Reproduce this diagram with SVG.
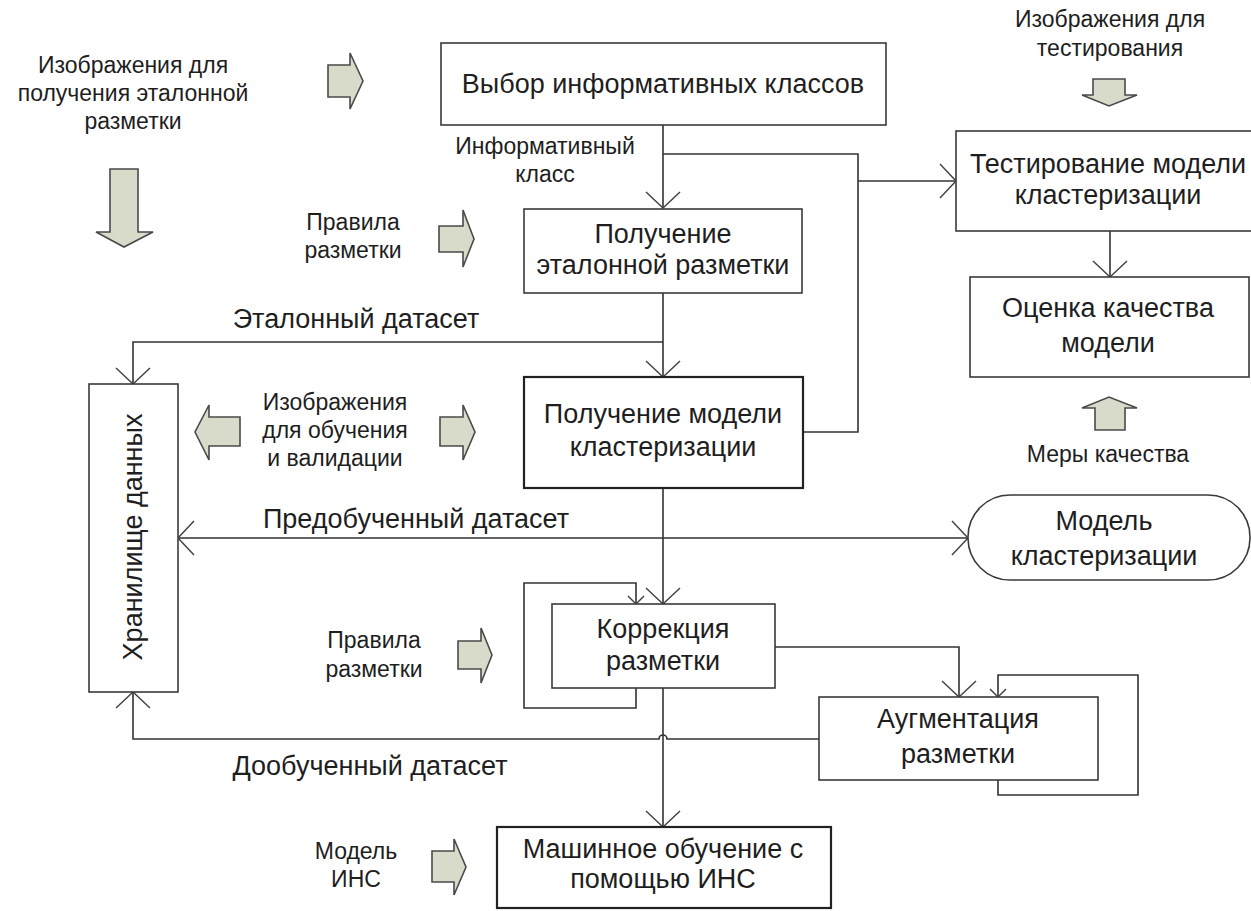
<svg xmlns="http://www.w3.org/2000/svg" width="1251" height="911" viewBox="0 0 1251 911">
<defs>
<style>
.box{fill:#fff;stroke:#3a3a3a;stroke-width:1.6}
.boxb{fill:#fff;stroke:#222;stroke-width:2.2}
.t{font-family:"Liberation Sans",Arial,sans-serif;fill:#1e1e1e;text-anchor:middle}
.bt{font-size:27px}
.lt{font-size:23px}
.c{fill:none;stroke:#333;stroke-width:1.6}
.ba{fill:#d8dbc9;stroke:#4a4a4a;stroke-width:1.6;stroke-linejoin:miter}
</style>
<marker id="av" markerUnits="userSpaceOnUse" viewBox="-20 -20 22 40" refX="0" refY="0" markerWidth="22" markerHeight="40" orient="auto" overflow="visible">
<path d="M-16,-17 L0,0 L-16,17" fill="none" stroke="#444" stroke-width="1.5"/>
</marker>
<marker id="avs" markerUnits="userSpaceOnUse" viewBox="-12 -12 14 24" refX="0" refY="0" markerWidth="14" markerHeight="24" orient="auto" overflow="visible">
<path d="M-8,-8 L0,0 L-8,8" fill="none" stroke="#444" stroke-width="1.5"/>
</marker>
</defs>
<rect width="1251" height="911" fill="#fff"/>

<g id="connectors">
<path class="c" d="M663,125 V208" marker-end="url(#av)"/>
<path class="c" d="M663,154 H858 V432 H803"/>
<path class="c" d="M858,181 H956" marker-end="url(#av)"/>
<path class="c" d="M663,293 V377" marker-end="url(#av)"/>
<path class="c" d="M663,342 H133 V384" marker-end="url(#av)"/>
<path class="c" d="M663,488 V604" marker-end="url(#av)"/>
<path class="c" d="M663,538 H178" marker-end="url(#av)"/>
<path class="c" d="M663,538 H968" marker-end="url(#av)"/>
<path class="c" d="M636,688 V708 H524 V583 H636 V604" marker-end="url(#avs)"/>
<path class="c" d="M775,647 H959 V697" marker-end="url(#av)"/>
<path class="c" d="M998,780 V795 H1138 V675 H998 V697" marker-end="url(#avs)"/>
<path class="c" d="M819,739 H667 A4,4 0 0 0 659,739 H133 V692" marker-end="url(#av)"/>
<path class="c" d="M663,688 V827" marker-end="url(#av)"/>
<path class="c" d="M1110,231 V277" marker-end="url(#av)"/>
</g>

<g id="block-arrows">
<polygon class="ba" points="328,65 350,65 350,53 363,81 350,109 350,97 328,97"/>
<polygon class="ba" points="110,169 138,169 138,232 153,232 124,247 96,232 110,232"/>
<polygon class="ba" points="439,226 463,226 463,210 474,239 463,267 463,252 439,252"/>
<polygon class="ba" points="240,417 209,417 209,405 195,432 209,460 209,446 240,446"/>
<polygon class="ba" points="440,417 463,417 463,405 475,432 463,460 463,446 440,446"/>
<polygon class="ba" points="458,641 481,641 481,628 492,655 481,683 481,669 458,669"/>
<polygon class="ba" points="432,851 454,851 454,839 466,867 454,895 454,882 432,882"/>
<polygon class="ba" points="1093,79 1125,79 1125,95 1137,95 1109,106 1082,95 1093,95"/>
<polygon class="ba" points="1095,430 1125,430 1125,408 1137,408 1109,397 1082,408 1095,408"/>
</g>

<g id="labels">
<text class="t lt" x="133" y="73">Изображения для</text>
<text class="t lt" x="133" y="101">получения эталонной</text>
<text class="t lt" x="133" y="129">разметки</text>
<text class="t lt" x="353" y="230">Правила</text>
<text class="t lt" x="353" y="258">разметки</text>
<text class="t lt" x="545" y="154">Информативный</text>
<text class="t lt" x="545" y="182">класс</text>
<text class="t bt" x="356" y="328">Эталонный датасет</text>
<text class="t lt" x="335" y="410">Изображения</text>
<text class="t lt" x="335" y="438">для обучения</text>
<text class="t lt" x="335" y="466">и валидации</text>
<text class="t bt" x="416" y="528">Предобученный датасет</text>
<text class="t lt" x="374" y="648">Правила</text>
<text class="t lt" x="374" y="677">разметки</text>
<text class="t bt" x="370" y="775">Дообученный датасет</text>
<text class="t lt" x="356" y="859">Модель</text>
<text class="t lt" x="356" y="887">ИНС</text>
<text class="t lt" x="1110" y="27">Изображения для</text>
<text class="t lt" x="1110" y="56">тестирования</text>
<text class="t lt" x="1108" y="462">Меры качества</text>
</g>

<g id="node-vybor">
<rect class="box" x="441" y="43" width="445" height="82"/>
<text class="t bt" x="663" y="93">Выбор информативных классов</text>
</g>
<g id="node-etalon">
<rect class="box" x="524" y="209" width="278" height="84"/>
<text class="t bt" x="663" y="243">Получение</text>
<text class="t bt" x="663" y="274">эталонной разметки</text>
</g>
<g id="node-model">
<rect class="boxb" x="524" y="377" width="279" height="111"/>
<text class="t bt" x="663" y="423">Получение модели</text>
<text class="t bt" x="663" y="456">кластеризации</text>
</g>
<g id="node-storage">
<rect class="box" x="89" y="384" width="89" height="308"/>
<text class="t bt" transform="translate(142,537) rotate(-90)" x="0" y="0">Хранилище данных</text>
</g>
<g id="node-test">
<rect class="box" x="956" y="131" width="310" height="100"/>
<text class="t bt" x="1108" y="173">Тестирование модели</text>
<text class="t bt" x="1108" y="204">кластеризации</text>
</g>
<g id="node-quality">
<rect class="box" x="970" y="277" width="279" height="100"/>
<text class="t bt" x="1108" y="317">Оценка качества</text>
<text class="t bt" x="1108" y="352">модели</text>
</g>
<g id="node-clmodel">
<rect class="box" x="968" y="495" width="282" height="85" rx="42" ry="42"/>
<text class="t bt" x="1104" y="530">Модель</text>
<text class="t bt" x="1104" y="565">кластеризации</text>
</g>
<g id="node-correct">
<rect class="box" x="552" y="604" width="223" height="84"/>
<text class="t bt" x="663" y="638">Коррекция</text>
<text class="t bt" x="663" y="670">разметки</text>
</g>
<g id="node-augment">
<rect class="box" x="819" y="697" width="279" height="83"/>
<text class="t bt" x="958" y="728">Аугментация</text>
<text class="t bt" x="958" y="763">разметки</text>
</g>
<g id="node-ml">
<rect class="boxb" x="497" y="827" width="334" height="81"/>
<text class="t bt" x="663" y="858">Машинное обучение с</text>
<text class="t bt" x="663" y="888">помощью ИНС</text>
</g>
</svg>
